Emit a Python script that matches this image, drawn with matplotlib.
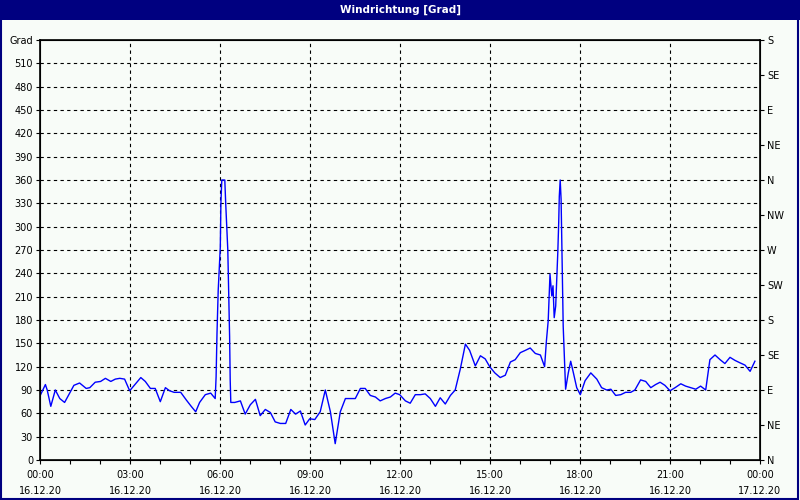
import matplotlib.pyplot as plt
from matplotlib.patches import Rectangle

# time in hours since 16.12.20 00:00, wind direction in degrees
hours = [0.02, 0.18, 0.24, 0.36, 0.51, 0.66, 0.82, 0.99, 1.13, 1.32, 1.54, 1.66, 1.84,
         2.02, 2.18, 2.36, 2.51, 2.66, 2.82, 2.99, 3.36, 3.51, 3.68, 3.84, 4.01, 4.18,
         4.32, 4.47, 4.69, 4.88, 5.04, 5.19, 5.32, 5.51, 5.69, 5.84, 5.87, 5.90, 5.94,
         6.01, 6.03, 6.06, 6.16, 6.19, 6.26, 6.29, 6.32, 6.34, 6.36, 6.49, 6.68, 6.84,
         7.01, 7.18, 7.34, 7.51, 7.68, 7.84, 8.01, 8.19, 8.36, 8.52, 8.68, 8.84, 8.99,
         9.16, 9.34, 9.51, 9.68, 9.84, 10.01, 10.18, 10.34, 10.51, 10.68, 10.84, 11.01,
         11.18, 11.34, 11.51, 11.68, 11.84, 11.99, 12.18, 12.34, 12.51, 12.68, 12.84,
         13.01, 13.18, 13.34, 13.51, 13.68, 13.84, 14.01, 14.18, 14.32, 14.51, 14.68,
         14.84, 14.99, 15.16, 15.34, 15.51, 15.68, 15.84, 16.01, 16.18, 16.34, 16.51,
         16.68, 16.82, 16.88, 16.94, 17.0, 17.06, 17.1, 17.14, 17.19, 17.22, 17.26,
         17.29, 17.31, 17.34, 17.37, 17.40, 17.44, 17.49, 17.52, 17.61, 17.69, 17.78,
         17.89, 18.01, 18.17, 18.36, 18.56, 18.72, 18.89, 19.03, 19.19, 19.36, 19.52,
         19.69, 19.83, 20.02, 20.19, 20.36, 20.52, 20.67, 20.83, 21.0, 21.17, 21.36,
         21.52, 21.69, 21.86, 22.02, 22.19, 22.33, 22.5, 22.67, 22.83, 23.0, 23.17,
         23.33, 23.5, 23.67, 23.83]
grad = [84, 97, 90, 69, 90, 79, 74, 86, 96, 99, 92, 93, 100,
        101, 105, 101, 104, 105, 104, 89, 106, 101, 92, 92, 75, 93,
        89, 87, 87, 77, 69, 62, 74, 84, 86, 79, 107, 163, 218,
        274, 330, 360, 360, 330, 270, 217, 159, 103, 74, 74, 76, 59,
        71, 78, 57, 65, 61, 49, 47, 47, 65, 59, 63, 45, 53,
        52, 62, 90, 62, 21, 62, 79, 79, 79, 92, 92, 83,
        81, 76, 79, 81, 86, 84, 76, 73, 84, 84, 85,
        79, 69, 80, 72, 83, 90, 117, 149, 141, 121, 134,
        130, 120, 112, 106, 109, 126, 129, 138, 141, 144, 137,
        135, 120, 153, 179, 239, 211, 224, 183, 198, 228, 267,
        305, 339, 360, 335, 267, 172, 119, 91, 112, 127, 112,
        93, 84, 102, 112, 104, 93, 90, 91, 83, 84, 87,
        87, 90, 103, 101, 93, 97, 100, 96, 89, 93, 98,
        95, 93, 91, 95, 90, 129, 135, 129, 124, 132, 128,
        125, 122, 114, 127]

x_ticks = [0, 3, 6, 9, 12, 15, 18, 21, 24]
x_labels = ["00:00\n16.12.20", "03:00\n16.12.20", "06:00\n16.12.20", "09:00\n16.12.20",
            "12:00\n16.12.20", "15:00\n16.12.20", "18:00\n16.12.20", "21:00\n16.12.20",
            "00:00\n17.12.20"]
left_ticks = list(range(0, 541, 30))
left_labels = [str(v) for v in left_ticks[:-1]] + ["Grad"]
right_ticks = list(range(0, 541, 45))
right_labels = ["N", "NE", "E", "SE", "S", "SW", "W", "NW", "N", "NE", "E", "SE", "S"]

bg = "#f8fcf8"
navy = "#000080"

fig = plt.figure(figsize=(8, 5), dpi=100, facecolor=bg)
fig.patches.append(Rectangle((0, 0.96), 1, 0.04, transform=fig.transFigure,
                             facecolor=navy, edgecolor="none", zorder=0))
fig.patches.append(Rectangle((0.001, 0.002), 0.997, 0.996, transform=fig.transFigure,
                             facecolor="none", edgecolor=navy, linewidth=1.5, zorder=1))
fig.text(0.5, 0.98, "Windrichtung [Grad]", color="white", fontsize=7.5, fontweight="bold",
         ha="center", va="center")

ax = fig.add_axes([0.05, 0.08, 0.90, 0.84], facecolor=bg)
ax.plot(hours, grad, color="#0000ff", linewidth=1)
ax.set_xlim(0, 24)
ax.set_ylim(0, 540)

ax.set_xticks(x_ticks)
ax.set_xticklabels(x_labels, fontsize=7, linespacing=1.75)
ax.set_xticks(range(25), minor=True)
ax.set_yticks(left_ticks)
ax.set_yticklabels(left_labels, fontsize=7)
ax.tick_params(axis="both", direction="out", length=3, width=0.8, pad=2)
ax.tick_params(axis="x", which="minor", length=3, width=0.8)
ax.tick_params(axis="x", pad=4)

for v in left_ticks[1:-1]:
    ax.axhline(v, color="black", linestyle=(0, (3, 3)), linewidth=0.8, zorder=0)
for v in x_ticks[1:-1]:
    ax.axvline(v, color="black", linestyle=(0, (3, 3)), linewidth=0.8, zorder=0)

for s in ax.spines.values():
    s.set_linewidth(1.2)

ax2 = ax.twinx()
ax2.set_ylim(0, 540)
ax2.set_yticks(right_ticks)
ax2.set_yticklabels(right_labels, fontsize=7)
ax2.tick_params(axis="y", direction="out", length=3, width=0.8, pad=2)

fig.savefig("out.png", dpi=100, facecolor=bg)
